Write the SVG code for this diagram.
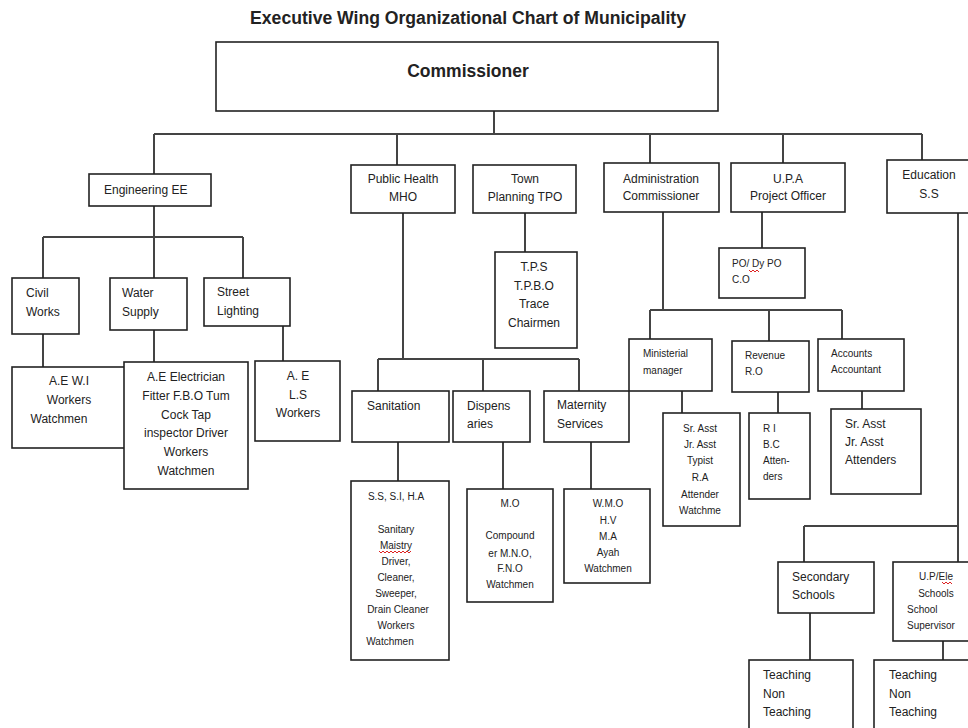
<svg xmlns="http://www.w3.org/2000/svg" width="968" height="728" viewBox="0 0 968 728">
<style>
rect{fill:#fff;stroke:#222;stroke-width:1.6}
.c path{fill:none;stroke:#444;stroke-width:2}
text{font-family:"Liberation Sans",Arial,sans-serif;font-size:12px;fill:#222}
.m{text-anchor:middle}
.s{font-size:10px}
.b{font-weight:bold}
.sq{fill:none;stroke:#d22;stroke-width:1}
</style>
<rect x="0" y="0" width="968" height="728" style="stroke:none;fill:#fff"/>
<text class="b m" x="468" y="24" style="font-size:17.6px">Executive Wing Organizational Chart of Municipality</text>

<g class="c" id="connectors">
<path d="M494 111V134M154 134H922M154 134V174M397 134V165M650 134V163M783 134V163M922 134V160"/>
<path d="M154 206V237M43 237H243M43 237V278M154 237V278M243 237V278"/>
<path d="M43 334V367M154 330V362M283 326V361"/>
<path d="M403 213V359M378 359H579M378 359V391M483 359V391M579 359V391"/>
<path d="M525 213V252"/>
<path d="M398 442V481M503 442V489M591 442V489"/>
<path d="M663 212V310M650 310H842M650 310V339M769 310V341M842 310V339"/>
<path d="M762 212V248"/>
<path d="M682 391V413M778 392V413M862 391V409"/>
<path d="M958 213V562M804 526H958M804 526V562"/>
<path d="M810 613V660M943 641V660"/>
</g>

<g id="commissioner"><rect x="216" y="42" width="502" height="69"/><text class="b m" x="468" y="77" style="font-size:17.5px">Commissioner</text></g>

<g id="engineering"><rect x="89" y="174" width="122" height="32"/><text x="104" y="194">Engineering EE</text></g>
<g id="public-health"><rect x="351" y="165" width="104" height="48"/><text class="m" x="403" y="183">Public Health</text><text class="m" x="403" y="201">MHO</text></g>
<g id="town-planning"><rect x="473" y="165" width="103" height="48"/><text class="m" x="525" y="183">Town</text><text class="m" x="525" y="201">Planning TPO</text></g>
<g id="administration"><rect x="604" y="163" width="115" height="49"/><text class="m" x="661" y="183">Administration</text><text class="m" x="661" y="200">Commissioner</text></g>
<g id="upa"><rect x="731" y="163" width="114" height="49"/><text class="m" x="788" y="183">U.P.A</text><text class="m" x="788" y="200">Project Officer</text></g>
<g id="education"><rect x="887" y="160" width="90" height="53"/><text class="m" x="929" y="179">Education</text><text class="m" x="929" y="198">S.S</text></g>

<g id="civil-works"><rect x="12" y="278" width="67" height="56"/><text x="26" y="297">Civil</text><text x="26" y="316">Works</text></g>
<g id="water-supply"><rect x="110" y="278" width="77" height="52"/><text x="122" y="297">Water</text><text x="122" y="316">Supply</text></g>
<g id="street-lighting"><rect x="204" y="278" width="86" height="48"/><text x="217" y="296">Street</text><text x="217" y="315">Lighting</text></g>

<g id="civil-staff"><rect x="12" y="367" width="120" height="81"/><text class="m" x="69" y="385">A.E W.I</text><text class="m" x="69" y="404">Workers</text><text class="m" x="59" y="423">Watchmen</text></g>
<g id="water-staff"><rect x="124" y="362" width="124" height="127"/>
<text class="m" x="186" y="381">A.E Electrician</text><text class="m" x="186" y="400">Fitter F.B.O Tum</text><text class="m" x="186" y="419">Cock Tap</text><text class="m" x="186" y="437">inspector Driver</text><text class="m" x="186" y="456">Workers</text><text class="m" x="186" y="475">Watchmen</text></g>
<g id="street-staff"><rect x="255" y="361" width="85" height="80"/><text class="m" x="298" y="380">A.  E</text><text class="m" x="298" y="399">L.S</text><text class="m" x="298" y="417">Workers</text></g>

<g id="tps"><rect x="495" y="252" width="82" height="96"/><text class="m" x="534" y="271">T.P.S</text><text class="m" x="534" y="290">T.P.B.O</text><text class="m" x="534" y="308">Trace</text><text class="m" x="534" y="327">Chairmen</text></g>
<g id="po"><rect x="719" y="248" width="86" height="50"/><text class="s" x="732" y="267">PO/ Dy PO</text><text class="s" x="732" y="283">C.O</text><path class="sq" d="M749 270l2 2 2-2 2 2 2-2 2 2"/></g>

<g id="sanitation"><rect x="352" y="391" width="97" height="51"/><text x="367" y="410">Sanitation</text></g>
<g id="dispensaries"><rect x="453" y="391" width="77" height="51"/><text x="467" y="410">Dispens</text><text x="467" y="428">aries</text></g>
<g id="maternity"><rect x="544" y="391" width="85" height="51"/><text x="557" y="409">Maternity</text><text x="557" y="428">Services</text></g>

<g id="ministerial"><rect x="629" y="339" width="83" height="52"/><text class="s" x="643" y="357">Ministerial</text><text class="s" x="643" y="374">manager</text></g>
<g id="revenue"><rect x="732" y="341" width="77" height="51"/><text class="s" x="745" y="359">Revenue</text><text class="s" x="745" y="375">R.O</text></g>
<g id="accounts"><rect x="818" y="339" width="86" height="52"/><text class="s" x="831" y="357">Accounts</text><text class="s" x="831" y="373">Accountant</text></g>

<g id="sanitation-staff"><rect x="351" y="481" width="98" height="179"/>
<text class="s m" x="396" y="500">S.S, S.I,  H.A</text><text class="s m" x="396" y="533">Sanitary</text><text class="s m" x="396" y="549">Maistry</text><text class="s m" x="396" y="565">Driver,</text><text class="s m" x="396" y="581">Cleaner,</text><text class="s m" x="396" y="597">Sweeper,</text><text class="s m" x="398" y="613">Drain Cleaner</text><text class="s m" x="396" y="629">Workers</text><text class="s m" x="390" y="645">Watchmen</text>
<path class="sq" d="M379 551l2 2 2-2 2 2 2-2 2 2 2-2 2 2 2-2 2 2 2-2 2 2 2-2 2 2 2-2 2 2 2-2"/></g>
<g id="dispensary-staff"><rect x="467" y="489" width="86" height="113"/>
<text class="s m" x="510" y="507">M.O</text><text class="s m" x="510" y="539">Compound</text><text class="s m" x="510" y="557">er M.N.O,</text><text class="s m" x="510" y="572">F.N.O</text><text class="s m" x="510" y="588">Watchmen</text></g>
<g id="maternity-staff"><rect x="564" y="489" width="86" height="94"/>
<text class="s m" x="608" y="507">W.M.O</text><text class="s m" x="608" y="524">H.V</text><text class="s m" x="608" y="540">M.A</text><text class="s m" x="608" y="556">Ayah</text><text class="s m" x="608" y="572">Watchmen</text></g>

<g id="ministerial-staff"><rect x="663" y="413" width="77" height="113"/>
<text class="s m" x="700" y="432">Sr. Asst</text><text class="s m" x="700" y="448">Jr. Asst</text><text class="s m" x="700" y="464">Typist</text><text class="s m" x="700" y="481">R.A</text><text class="s m" x="700" y="498">Attender</text><text class="s m" x="700" y="514">Watchme</text></g>
<g id="revenue-staff"><rect x="749" y="413" width="61" height="86"/>
<text class="s" x="763" y="432">R I</text><text class="s" x="763" y="448">B.C</text><text class="s" x="763" y="464">Atten-</text><text class="s" x="763" y="480">ders</text></g>
<g id="accounts-staff"><rect x="831" y="409" width="90" height="85"/>
<text x="845" y="428">Sr. Asst</text><text x="845" y="446">Jr. Asst</text><text x="845" y="464">Attenders</text></g>

<g id="secondary"><rect x="778" y="562" width="96" height="51"/><text x="792" y="581">Secondary</text><text x="792" y="599">Schools</text></g>
<g id="up-ele"><rect x="893" y="562" width="80" height="79"/>
<text class="s m" x="936" y="580">U.P/Ele</text><text class="s m" x="936" y="597">Schools</text><text class="s" x="907" y="613">School</text><text class="s" x="907" y="629">Supervisor</text>
<path class="sq" d="M942 582l2 2 2-2 2 2 2-2 2 2"/></g>
<g id="teaching-1"><rect x="749" y="660" width="104" height="72"/><text x="763" y="679">Teaching</text><text x="763" y="698">Non</text><text x="763" y="716">Teaching</text></g>
<g id="teaching-2"><rect x="874" y="660" width="100" height="72"/><text x="889" y="679">Teaching</text><text x="889" y="698">Non</text><text x="889" y="716">Teaching</text></g>
</svg>
